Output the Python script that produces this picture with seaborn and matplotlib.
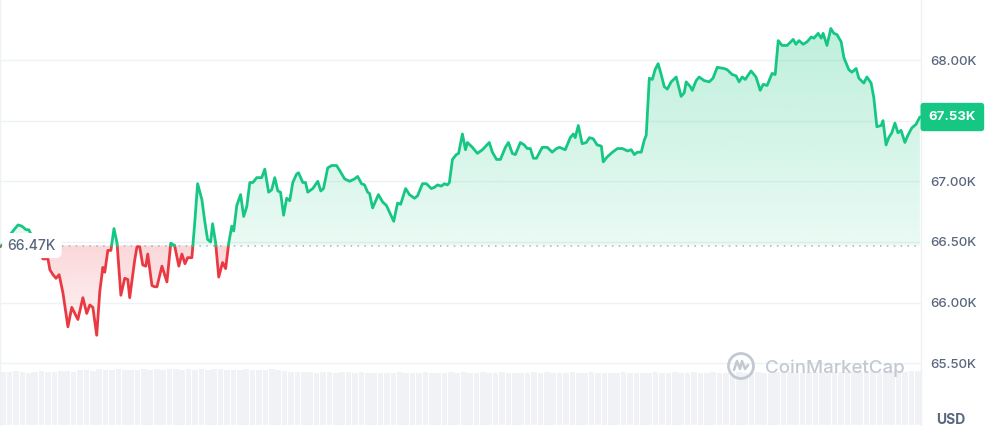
import numpy as np
import pandas as pd
import seaborn as sns
import matplotlib.pyplot as plt
import matplotlib.colors as mcolors
from matplotlib.path import Path
from matplotlib.patches import Circle

# 24h BTC price, hours since open / price in thousands USD
times = [0.00, 0.16, 0.29, 0.39, 0.47, 0.57, 0.68, 0.75, 0.88, 1.02,
         1.12, 1.25, 1.30, 1.38, 1.46, 1.54, 1.64, 1.77, 1.87, 2.03,
         2.16, 2.26, 2.34, 2.42, 2.52, 2.60, 2.68, 2.73, 2.81, 2.89,
         2.97, 3.05, 3.15, 3.25, 3.33, 3.38, 3.51, 3.57, 3.64, 3.72,
         3.80, 3.85, 3.96, 4.03, 4.09, 4.22, 4.35, 4.45, 4.55, 4.66,
         4.74, 4.82, 4.89, 5.00, 5.08, 5.15, 5.26, 5.34, 5.41, 5.49,
         5.54, 5.62, 5.70, 5.80, 5.88, 5.96, 6.04, 6.09, 6.17, 6.27,
         6.35, 6.43, 6.51, 6.59, 6.69, 6.82, 6.90, 7.00, 7.08, 7.16,
         7.24, 7.31, 7.39, 7.47, 7.55, 7.63, 7.73, 7.78, 7.89, 7.96,
         8.02, 8.15, 8.28, 8.36, 8.43, 8.54, 8.64, 8.77, 8.85, 8.98,
         9.11, 9.24, 9.32, 9.42, 9.50, 9.58, 9.63, 9.71, 9.86, 9.97,
         10.07, 10.26, 10.36, 10.44, 10.57, 10.67, 10.80, 10.88, 11.01, 11.11,
         11.24, 11.32, 11.40, 11.50, 11.58, 11.66, 11.71, 11.79, 11.89, 11.95,
         12.05, 12.13, 12.18, 12.31, 12.44, 12.57, 12.75, 12.83, 12.94, 13.04,
         13.17, 13.25, 13.35, 13.43, 13.56, 13.66, 13.74, 13.82, 13.90, 13.98,
         14.13, 14.26, 14.39, 14.50, 14.58, 14.73, 14.86, 14.94, 14.99, 15.07,
         15.17, 15.28, 15.36, 15.46, 15.56, 15.67, 15.72, 15.82, 15.96, 16.09,
         16.22, 16.35, 16.45, 16.53, 16.61, 16.71, 16.79, 16.84, 16.92, 17.00,
         17.07, 17.15, 17.23, 17.31, 17.39, 17.49, 17.62, 17.75, 17.83, 17.88,
         17.99, 18.04, 18.14, 18.22, 18.35, 18.48, 18.58, 18.69, 18.87, 18.95,
         19.08, 19.18, 19.26, 19.34, 19.42, 19.57, 19.70, 19.81, 19.89, 19.99,
         20.12, 20.20, 20.28, 20.38, 20.51, 20.67, 20.74, 20.82, 20.93, 21.03,
         21.14, 21.21, 21.32, 21.40, 21.45, 21.55, 21.65, 21.73, 21.81, 21.92,
         21.99, 22.12, 22.20, 22.31, 22.38, 22.51, 22.59, 22.70, 22.77, 22.85,
         22.96, 23.01, 23.09, 23.16, 23.24, 23.32, 23.40, 23.48, 23.58, 23.66,
         23.76, 23.87, 23.97]

prices = [66.46, 66.50, 66.57, 66.61, 66.64, 66.63, 66.60, 66.60, 66.52, 66.42,
          66.36, 66.36, 66.27, 66.23, 66.20, 66.23, 66.08, 65.80, 65.96, 65.86,
          66.04, 65.91, 65.98, 65.96, 65.73, 66.09, 66.29, 66.25, 66.43, 66.43,
          66.61, 66.49, 66.06, 66.20, 66.19, 66.04, 66.35, 66.46, 66.46, 66.31,
          66.30, 66.40, 66.14, 66.13, 66.13, 66.30, 66.17, 66.49, 66.47, 66.30,
          66.40, 66.32, 66.37, 66.37, 66.68, 66.98, 66.85, 66.66, 66.52, 66.50,
          66.65, 66.49, 66.21, 66.33, 66.28, 66.49, 66.63, 66.59, 66.80, 66.89,
          66.71, 66.79, 66.99, 66.99, 67.03, 67.03, 67.10, 66.91, 66.93, 67.03,
          66.92, 66.91, 66.72, 66.86, 66.84, 66.99, 67.06, 67.07, 66.99, 66.99,
          66.91, 66.94, 67.00, 66.92, 66.94, 67.11, 67.13, 67.13, 67.09, 67.02,
          67.00, 67.02, 67.04, 66.98, 66.97, 66.91, 66.90, 66.78, 66.89, 66.83,
          66.80, 66.67, 66.82, 66.81, 66.94, 66.89, 66.86, 66.88, 66.98, 66.98,
          66.94, 66.95, 66.97, 66.96, 66.98, 66.97, 66.99, 67.18, 67.22, 67.23,
          67.39, 67.26, 67.32, 67.28, 67.23, 67.26, 67.32, 67.24, 67.18, 67.18,
          67.28, 67.32, 67.23, 67.22, 67.32, 67.30, 67.27, 67.27, 67.19, 67.19,
          67.28, 67.28, 67.24, 67.27, 67.28, 67.26, 67.36, 67.39, 67.36, 67.46,
          67.31, 67.32, 67.36, 67.35, 67.30, 67.29, 67.16, 67.20, 67.24, 67.27,
          67.27, 67.25, 67.26, 67.22, 67.24, 67.24, 67.34, 67.38, 67.85, 67.84,
          67.92, 67.97, 67.88, 67.78, 67.76, 67.82, 67.86, 67.70, 67.73, 67.82,
          67.78, 67.75, 67.83, 67.86, 67.83, 67.82, 67.85, 67.94, 67.93, 67.92,
          67.88, 67.87, 67.82, 67.86, 67.84, 67.91, 67.86, 67.75, 67.80, 67.79,
          67.89, 67.88, 68.16, 68.12, 68.12, 68.17, 68.13, 68.16, 68.13, 68.15,
          68.19, 68.18, 68.22, 68.18, 68.22, 68.12, 68.26, 68.22, 68.21, 68.15,
          68.02, 67.92, 67.90, 67.93, 67.85, 67.81, 67.86, 67.81, 67.69, 67.45,
          67.46, 67.50, 67.30, 67.36, 67.40, 67.48, 67.40, 67.42, 67.32, 67.38,
          67.44, 67.47, 67.53]

# volume per 10 minutes (relative)
volumes = [1.00, 0.99, 1.01, 1.00, 0.98, 1.00, 1.01, 0.99, 1.00, 1.02, 1.01, 1.00,
           1.03, 1.04, 1.02, 1.05, 1.04, 1.03, 1.05, 1.04, 1.03, 1.04, 1.05, 1.04,
           1.05, 1.04, 1.06, 1.05, 1.04, 1.05, 1.03, 1.05, 1.04, 1.05, 1.06, 1.04,
           1.04, 1.03, 1.05, 1.04, 1.03, 1.04, 1.05, 1.03, 1.02, 1.00, 0.99, 1.00,
           0.99, 0.98, 1.00, 0.99, 0.98, 0.99, 1.00, 0.98, 0.99, 0.98, 0.97, 0.98,
           0.98, 0.97, 0.99, 0.98, 0.97, 0.98, 0.99, 0.98, 0.97, 0.98, 0.99, 0.98,
           0.99, 0.98, 0.98, 0.99, 0.97, 0.98, 0.99, 0.98, 0.98, 0.97, 0.98, 0.99,
           0.98, 0.99, 0.98, 0.97, 0.98, 0.99, 0.98, 0.98, 0.99, 0.98, 0.97, 0.98,
           0.98, 0.99, 0.98, 0.98, 0.97, 0.98, 0.99, 0.98, 0.98, 0.99, 0.98, 0.98,
           0.99, 0.98, 0.98, 0.99, 0.98, 0.97, 0.98, 0.99, 0.98, 0.98, 0.99, 0.98,
           0.98, 0.99, 0.98, 0.99, 0.98, 0.98, 0.99, 1.00, 0.99, 0.98, 0.99, 1.00,
           1.00, 1.01, 1.00, 1.02, 1.01, 1.00, 1.01, 1.02, 1.01, 1.00, 1.01, 1.02]

price_ticks = [65.5, 66.0, 66.5, 67.0, 67.5, 68.0]
tick_labels = ['65.50K', '66.00K', '66.50K', '67.00K', '', '68.00K']
open_price = 66.47
last_price = 67.53

GREEN = '#16c784'
RED = '#ea3943'
GREY = '#58667e'

sns.set_theme(style='white')
plt.rcParams['font.family'] = ['Inter', 'DejaVu Sans']

# split the line where it crosses the opening price
rows = []
seg = 0
prev = None
for i, (t, p) in enumerate(zip(times, prices)):
    side = 'up' if p >= open_price else 'down'
    if prev is not None and side != prev:
        t0, p0 = times[i - 1], prices[i - 1]
        tc = t0 + (open_price - p0) / (p - p0) * (t - t0)
        rows.append((tc, open_price, prev, seg))
        seg += 1
        rows.append((tc, open_price, side, seg))
    rows.append((t, p, side, seg))
    prev = side
df = pd.DataFrame(rows, columns=['hour', 'price', 'side', 'seg'])

fig = plt.figure(figsize=(9.9, 4.3), dpi=100)
ax = fig.add_axes([0.0, 5 / 430, 921 / 990, 425 / 430])
ax2 = ax.twinx()

# volume bars in the background
n_vol = len(volumes)
vol_t = [(i + 0.5) * 24 / n_vol for i in range(n_vol)]
ax2.bar(vol_t, volumes, width=24 / n_vol * 0.88, color='#f0f2f5', linewidth=0)
ax2.set_ylim(0, 8.0)
ax2.set_yticks([])
for s in ax2.spines.values():
    s.set_visible(False)
ax.set_zorder(ax2.get_zorder() + 1)
ax.patch.set_visible(False)

x = np.array(times)
y = np.array(prices)


def gradient_fill(where, color, y_lo, y_hi, a_lo, a_hi):
    coll = ax.fill_between(x, y, open_price, where=where, interpolate=True,
                           facecolor='none', edgecolor='none')
    path = Path.make_compound_path(*coll.get_paths())
    img = np.zeros((256, 1, 4))
    img[..., :3] = mcolors.to_rgb(color)
    img[:, 0, 3] = np.linspace(a_lo, a_hi, 256)
    im = ax.imshow(img, aspect='auto', origin='lower',
                   extent=[0, 24, y_lo, y_hi], zorder=1, interpolation='bilinear')
    im.set_clip_path(path, ax.transData)


gradient_fill(y >= open_price, GREEN, open_price, y.max(), 0.09, 0.28)
gradient_fill(y <= open_price, RED, y.min(), open_price, 0.05, 0.20)

ax.axhline(open_price, color='#a6b0c3', linestyle=(0, (1, 3.5)), linewidth=1.1, zorder=2)

sns.lineplot(data=df, x='hour', y='price', hue='side', units='seg', estimator=None,
             sort=False, palette={'up': GREEN, 'down': RED}, linewidth=2.0,
             legend=False, ax=ax, zorder=3, solid_joinstyle='round')

ax.set_xlim(0, 24)
ax.set_ylim(64.99, 68.495)
ax.set_xticks([])
ax.set_xlabel('')
ax.set_ylabel('')
ax.yaxis.tick_right()
ax.set_yticks(price_ticks)
ax.set_yticklabels(tick_labels)
ax.tick_params(axis='y', length=0, pad=7, labelcolor=GREY, labelsize=9.5)
for lbl in ax.get_yticklabels():
    lbl.set_fontweight(500)
ax.yaxis.grid(True, color='#eff2f5', linewidth=1)
ax.set_axisbelow(True)
for name, s in ax.spines.items():
    if name in ('left', 'right'):
        s.set_color('#eff2f5')
        s.set_linewidth(1)
    else:
        s.set_visible(False)

# opening price label on the left
ax.text(0.2, open_price, '66.47K', ha='left', va='center', color=GREY,
        fontsize=10, fontweight=500, zorder=5,
        bbox=dict(boxstyle='round,pad=0.4', facecolor='white', edgecolor='none'))

# last price badge on the right
ax.annotate(f'{last_price:.2f}K', xy=(1, last_price), xycoords=('axes fraction', 'data'),
            xytext=(5.5, 0), textcoords='offset points', ha='left', va='center',
            color='white', fontsize=9.5, fontweight='bold', annotation_clip=False,
            bbox=dict(boxstyle='round,pad=0.62,rounding_size=0.25', facecolor=GREEN,
                      edgecolor='none'))

fig.text(951 / 990, 1 - 420 / 430, 'USD', ha='center', va='center', color=GREY,
         fontsize=10, fontweight='bold')

# watermark (logo drawn in inches from the bottom-left corner)
wm = '#c3c9d2'
inch = fig.dpi_scale_trans
fig.patches.append(Circle((7.41, 0.64), 0.125, transform=inch, fill=False,
                          edgecolor=wm, linewidth=2, zorder=6))
fig.lines.append(plt.Line2D([7.34, 7.37, 7.40, 7.42, 7.45, 7.48],
                            [0.60, 0.69, 0.61, 0.69, 0.61, 0.65],
                            transform=inch, color=wm, linewidth=1.8, zorder=6,
                            solid_joinstyle='round', solid_capstyle='round'))
fig.text(765 / 990, 1 - 368 / 430, 'CoinMarketCap', ha='left', va='center', color=wm,
         fontsize=13.5, fontweight=500)

fig.savefig('out.png', dpi=100)
